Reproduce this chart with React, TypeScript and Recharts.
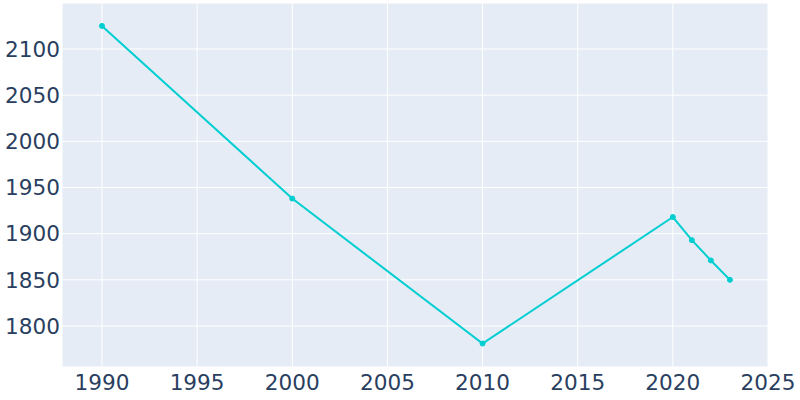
import { CartesianGrid, Line, LineChart, XAxis, YAxis } from "recharts";

const years = [1990, 2000, 2010, 2020, 2021, 2022, 2023];
const population = [2125, 1938, 1781, 1918, 1893, 1871, 1850];
const xTicks = [1990, 1995, 2000, 2005, 2010, 2015, 2020, 2025];
const yTicks = [1800, 1850, 1900, 1950, 2000, 2050, 2100];

const chartData = years.map((year, i) => ({ year, population: population[i] }));

const tickStyle = { fill: "#2a3f5f", fontSize: 21.6, fontFamily: "DejaVu Sans" };

export default function App() {
  return (
    <div style={{ position: "absolute", left: 0, top: 0, width: 800, height: 400, background: "#fff" }}>
      <LineChart
        width={800}
        height={400}
        data={chartData}
        margin={{ top: 3, right: 32, bottom: 0, left: 0 }}
      >
        <CartesianGrid stroke="#ffffff" strokeWidth={1} fill="#E5ECF6" fillOpacity={1} />
        <XAxis
          type="number"
          dataKey="year"
          domain={[1987.9, 2025]}
          ticks={xTicks}
          allowDataOverflow
          height={33}
          axisLine={false}
          tickLine={false}
          tickSize={0}
          tickMargin={8}
          tick={tickStyle}
        />
        <YAxis
          type="number"
          domain={[1755.6, 2149.8]}
          ticks={yTicks}
          allowDataOverflow
          width={62}
          axisLine={false}
          tickLine={false}
          tickSize={0}
          tickMargin={2}
          tick={tickStyle}
        />
        <Line
          type="linear"
          dataKey="population"
          stroke="#00CED1"
          strokeWidth={2}
          dot={{ r: 2.5, fill: "#00CED1", stroke: "#00CED1", strokeWidth: 1 }}
          isAnimationActive={false}
        />
      </LineChart>
    </div>
  );
}
